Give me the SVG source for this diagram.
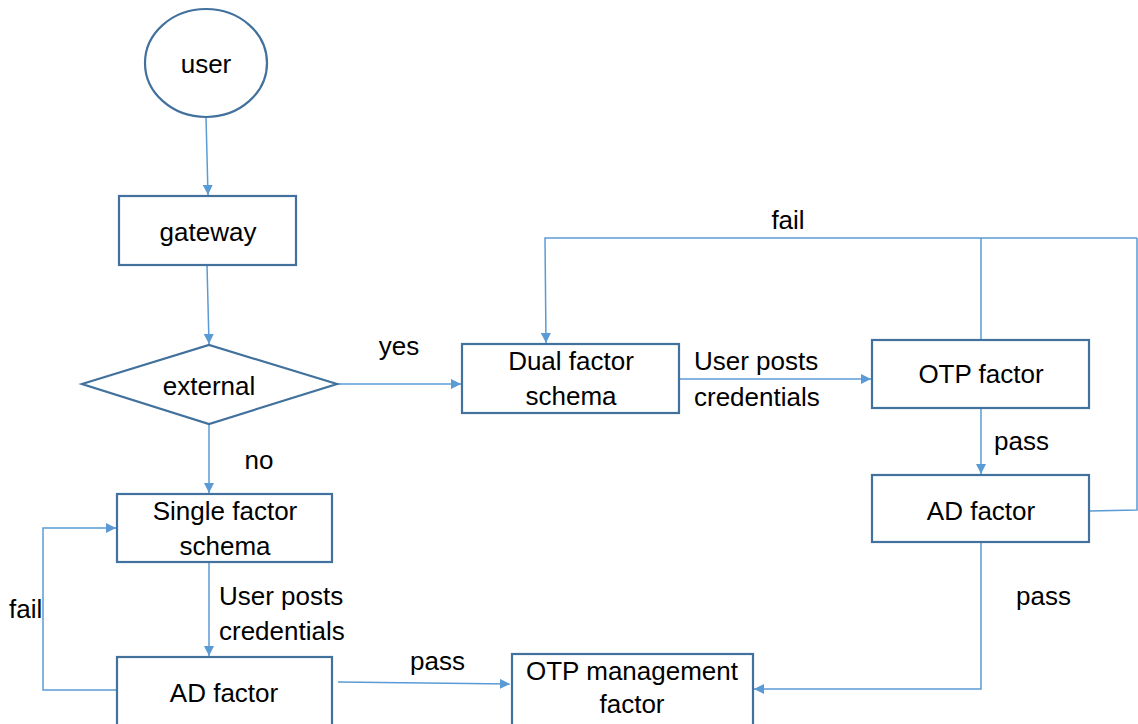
<svg xmlns="http://www.w3.org/2000/svg" width="1138" height="724" viewBox="0 0 1138 724">
<style>
.box{fill:#fff;stroke:#41719C;stroke-width:2.2}
.con{fill:none;stroke:#5B9BD5;stroke-width:1.5}
text{font-family:"Liberation Sans",Arial,sans-serif;font-size:26px;fill:#000}
.c{text-anchor:middle}
</style>
<defs>
<marker id="ah" viewBox="0 0 10 10" refX="10" refY="5" markerWidth="10" markerHeight="10" markerUnits="userSpaceOnUse" orient="auto">
<path d="M0,0 L10,5 L0,10 z" fill="#5B9BD5"/>
</marker>
</defs>
<rect width="1138" height="724" fill="#fff"/>
<g id="connectors">
<path class="con" d="M206,117 L208,195" marker-end="url(#ah)"/>
<path class="con" d="M207,265 L209,344" marker-end="url(#ah)"/>
<path class="con" d="M337,384 L461,384" marker-end="url(#ah)"/>
<path class="con" d="M209,424 L209,493" marker-end="url(#ah)"/>
<path class="con" d="M679,379 L871,379" marker-end="url(#ah)"/>
<path class="con" d="M981,340 L981,238 M1137,238 L545,238 L546,343" marker-end="url(#ah)"/>
<path class="con" d="M1089,511 L1137,510 L1137,238"/>
<path class="con" d="M981,408 L981,474" marker-end="url(#ah)"/>
<path class="con" d="M981,542 L981,689 L754,689" marker-end="url(#ah)"/>
<path class="con" d="M209,562 L209,656" marker-end="url(#ah)"/>
<path class="con" d="M338,682 L510,684" marker-end="url(#ah)"/>
<path class="con" d="M116,690 L43,690 L43,528 L116,528" marker-end="url(#ah)"/>
</g>
<g id="labels">
<text x="399" y="355" class="c">yes</text>
<text x="259" y="469" class="c">no</text>
<text x="788" y="229" class="c">fail</text>
<text x="694" y="370">User posts</text>
<text x="694" y="406">credentials</text>
<text x="994" y="450">pass</text>
<text x="1016" y="605">pass</text>
<text x="219" y="605">User posts</text>
<text x="219" y="640">credentials</text>
<text x="9" y="618">fail</text>
<text x="410" y="670">pass</text>
</g>
<g id="user"><ellipse class="box" cx="206" cy="63" rx="61" ry="54"/><text x="206" y="73" class="c">user</text></g>
<g id="gateway"><rect class="box" x="119" y="196" width="177" height="69"/><text x="208" y="241" class="c">gateway</text></g>
<g id="external"><polygon class="box" points="82,384 209,345 337,384 209,424"/><text x="209" y="395" class="c">external</text></g>
<g id="dual"><rect class="box" x="462" y="344" width="217" height="69"/><text x="571" y="370" class="c">Dual factor</text><text x="571" y="405" class="c">schema</text></g>
<g id="otp"><rect class="box" x="872" y="340" width="217" height="68"/><text x="981" y="383" class="c">OTP factor</text></g>
<g id="adright"><rect class="box" x="872" y="475" width="217" height="67"/><text x="981" y="520" class="c">AD factor</text></g>
<g id="single"><rect class="box" x="117" y="494" width="215" height="68"/><text x="225" y="520" class="c">Single factor</text><text x="225" y="555" class="c">schema</text></g>
<g id="adleft"><rect class="box" x="117" y="657" width="215" height="80"/><text x="224" y="702" class="c">AD factor</text></g>
<g id="otpmgmt"><rect class="box" x="512" y="654" width="241" height="80"/><text x="632" y="680" class="c">OTP management</text><text x="632" y="713" class="c">factor</text></g>
</svg>
